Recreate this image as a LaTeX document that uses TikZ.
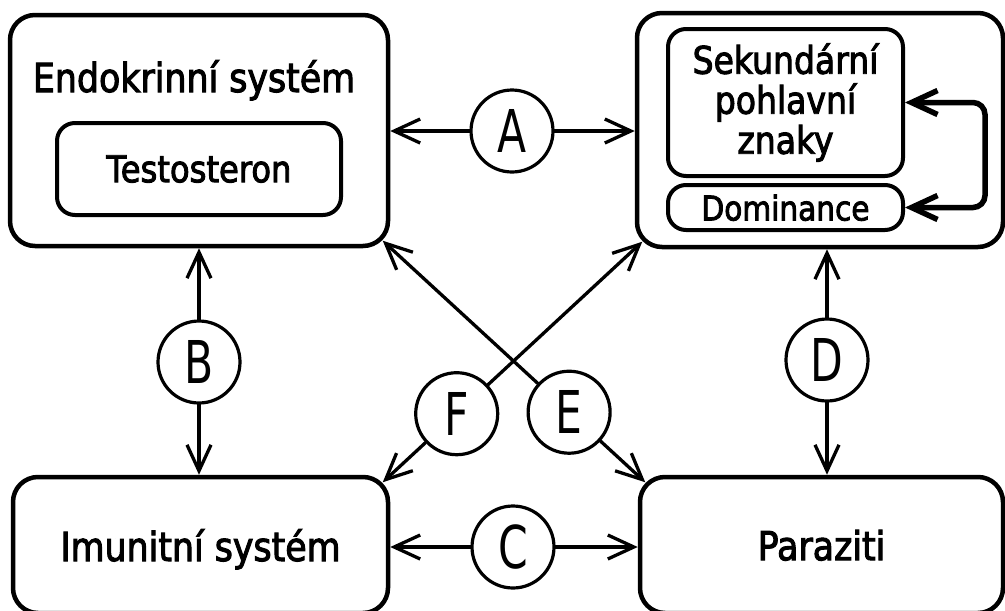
\documentclass[tikz,border=0pt]{standalone}
\usepackage{fontspec}
\setmainfont{DejaVu Sans}[FakeStretch=0.87,FakeBold=2.5]
\newfontfamily\tagfont{DejaVu Sans}[FakeStretch=0.72]
\usetikzlibrary{arrows.meta,calc}
\begin{document}
\begin{tikzpicture}[x=1pt,y=-1pt,
  box/.style={draw,line width=4.5pt,rounded corners=25pt,inner sep=0pt,
    font=\fontsize{40}{40}\selectfont},
  inbox/.style={draw,line width=4pt,rounded corners=18pt,inner sep=0pt},
  tag/.style={draw,circle,line width=3.2pt,minimum size=82pt,inner sep=0pt,
    font=\tagfont\fontsize{59}{59}\selectfont},
  tip/.tip={Straight Barb[length=26pt,width=24pt]},
  arr/.style={line width=3.3pt,line cap=round,-tip},
  loopline/.style={line width=5.5pt,line cap=round,rounded corners=12pt,tip-tip}
]
\useasboundingbox (0,0) rectangle (1005,611);
\clip (0,0) rectangle (1005,611);

% main blocks
\node[box,minimum width=378pt,minimum height=231pt] (endo) at (199,130.5) {};
\node[anchor=base,font=\fontsize{40}{40}\selectfont] (endoLbl) at (194,92) {Endokrinní systém};
\node[inbox,minimum width=284pt,minimum height=92pt,font=\fontsize{37}{37}\selectfont] (testo) at (199,169) {Testosteron};

\node[box,minimum width=366pt,minimum height=234pt] (sex) at (820,130) {};
\node[inbox,minimum width=235pt,minimum height=147pt,align=center,
  font=\fontsize{38}{40}\selectfont] (sek) at (785.5,102.5) {Sekundární\\pohlavní\\znaky};
\node[inbox,minimum width=235pt,minimum height=45pt,text depth=0pt,
  font=\fontsize{34}{34}\selectfont] (dom) at (785.5,207.5) {Dominance};

\node[box,minimum width=375pt,minimum height=136pt,text depth=0pt] (imu) at (200.5,545) {Imunitní systém};
\node[box,minimum width=363pt,minimum height=136pt,text depth=0pt] (par) at (821.5,545) {Paraziti};

% feedback loop between the two inner blocks
\draw[loopline] (dom.east) -- ++(80,0) |- (sek.east);

% corner points for the diagonal links
\coordinate (endoC) at ($(endo.south east)+(-7.5,-7.5)$);
\coordinate (sexC)  at ($(sex.south west)+(7.5,-7.5)$);
\coordinate (imuC)  at ($(imu.north east)+(-7.5,7.5)$);
\coordinate (parC)  at ($(par.north west)+(7.5,7.5)$);

% interaction tags
\node[tag] (A) at (512,131) {A};
\node[tag] (B) at (199,362) {B};
\node[tag] (C) at (513,547) {C};
\node[tag] (D) at (827,360) {D};
\node[tag] (E) at ($(endoC)!0.71!(parC)$) {E};
\node[tag] (F) at ($(imuC)!0.285!(sexC)$) {F};

% links
\draw[arr] (A) -- (A -| endo.east);
\draw[arr] (A) -- (A -| sex.west);
\draw[arr] (B) -- (B |- endo.south);
\draw[arr] (B) -- (B |- imu.north);
\draw[arr] (C) -- (C -| imu.east);
\draw[arr] (C) -- (C -| par.west);
\draw[arr] (D) -- (D |- sex.south);
\draw[arr] (D) -- (D |- par.north);
\draw[arr] (E) -- (endoC);
\draw[arr] (E) -- (parC);
\draw[arr] (F) -- (sexC);
\draw[arr] (F) -- (imuC);
\end{tikzpicture}
\end{document}
